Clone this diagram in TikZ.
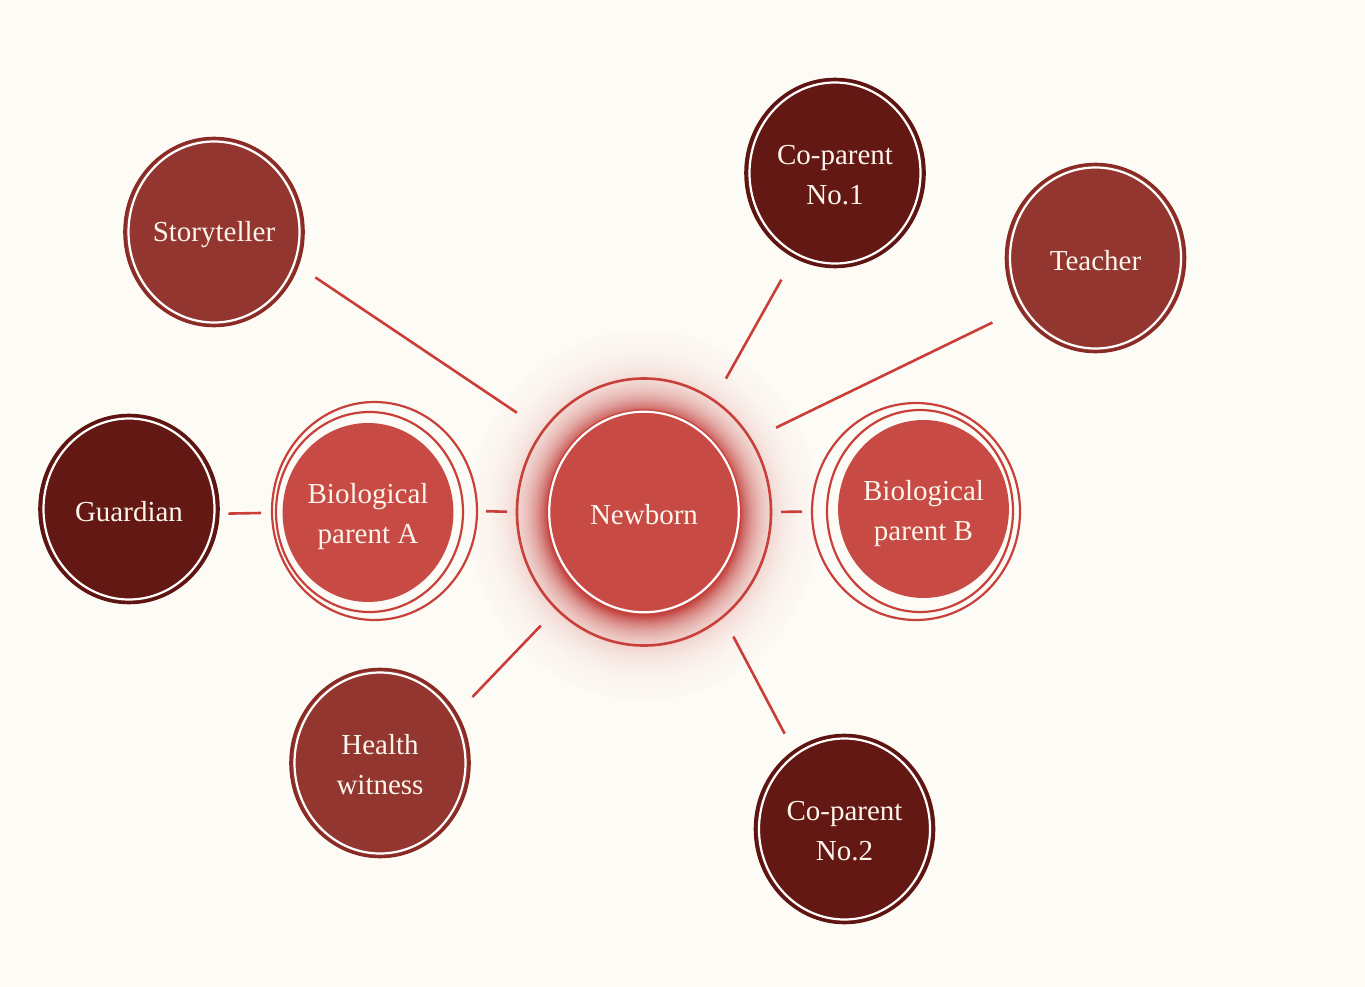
\documentclass[tikz,border=0pt]{standalone}
\usepackage{fontspec}
\setmainfont{Liberation Serif}
\usetikzlibrary{shapes.geometric}
\definecolor{bg}{HTML}{FDFBF6}
\definecolor{redA}{HTML}{C74A44}
\definecolor{ringred}{HTML}{C9403A}
\definecolor{glowred}{HTML}{BE3430}
\definecolor{midred}{HTML}{933630}
\definecolor{midborder}{HTML}{8A2A25}
\definecolor{darkred}{HTML}{641813}
\definecolor{darkborder}{HTML}{5E1410}
\definecolor{txt}{HTML}{FCF5EC}
\definecolor{linkred}{HTML}{CB3E38}
\newcommand{\whitering}[3]{\draw[white, line width=2.2pt] (#1.center) ellipse [x radius=#2, y radius=#3];}
\newcommand{\twolines}[2]{\raisebox{-3.2pt}[\height][\depth]{\begin{tabular}{@{}c@{}}#1\\#2\end{tabular}}}
\newcommand{\oneline}[1]{\raisebox{-2.6pt}[\height][\depth]{#1}}
\begin{document}
\begin{tikzpicture}[x=1pt,y=-1pt,
  lbl/.style={text=txt, font=\fontsize{29}{40}\selectfont},
  outer/.style={ellipse, inner sep=0pt, minimum width=179pt, minimum height=188pt, line width=2.6pt, lbl},
  midnode/.style={outer, fill=midred, draw=midborder},
  darknode/.style={outer, fill=darkred, draw=darkborder},
  ringnode/.style={ellipse, inner sep=0pt, outer sep=0pt, draw=ringred, line width=2.2pt},
  link/.style={draw=linkred, line width=2.6pt}
]
\useasboundingbox[fill=bg] (0,0) rectangle (1365,987);

% glow around the newborn
\foreach \d in {176,174,...,96}{
  \pgfmathsetmacro{\p}{min(92,92*exp(-(\d-97)/19))}
  \pgfmathsetmacro{\dy}{\d*1.052}
  \fill[glowred!\p!bg] (644,515) ellipse [x radius=\d, y radius=\dy];
}

% Newborn
\node[ringnode, line width=2.6pt, minimum width=254pt, minimum height=267pt] (nbo) at (644,512) {};
\node[ellipse, inner sep=0pt, minimum width=193pt, minimum height=204pt, fill=redA, draw=ringred, line width=1.4pt, lbl] (nb) at (644,512) {\oneline{Newborn}};
\whitering{nb}{94.8}{100.3}

% Biological parent A
\node[ringnode, minimum width=205pt, minimum height=218pt] (bioAr1) at (374.5,511) {};
\node[ringnode, minimum width=187pt, minimum height=200pt] (bioAr2) at (369.5,512) {};
\node[ellipse, inner sep=0pt, minimum width=170pt, minimum height=179pt, fill=redA, lbl] (bioA) at (368,512.5) {\twolines{Biological}{parent A}};

% Biological parent B
\node[ringnode, minimum width=208pt, minimum height=217pt] (bioBr1) at (916,511.5) {};
\node[ringnode, minimum width=186pt, minimum height=202pt] (bioBr2) at (920,511) {};
\node[ellipse, inner sep=0pt, minimum width=169pt, minimum height=178pt, fill=redA, lbl] (bioB) at (923.5,509) {\twolines{Biological}{parent B}};

% outer people
\node[midnode] (story) at (214,232) {\oneline{Storyteller}};
\whitering{story}{85.5}{90.5}
\node[darknode] (co1) at (835,173) {\twolines{Co-parent}{No.1}};
\whitering{co1}{85.5}{90.5}
\node[midnode] (teach) at (1095.5,258) {\oneline{Teacher}};
\whitering{teach}{85.5}{90.5}
\node[darknode] (guard) at (129,509) {\oneline{Guardian}};
\whitering{guard}{85.5}{90.5}
\node[midnode] (health) at (380,763) {\twolines{Health}{witness}};
\whitering{health}{85.5}{90.5}
\node[darknode] (co2) at (844.5,829) {\twolines{Co-parent}{No.2}};
\whitering{co2}{85.5}{90.5}

% connectors
\draw[link, shorten <=20pt, shorten >=32pt] (story.-22.7) -- (nbo.141.3);
\draw[link, shorten <=25pt, shorten >=25pt] (co1.-116.7) -- (nbo.58.5);
\draw[link, shorten <=29.7pt, shorten >=28pt] (teach.-146.5) -- (nbo.34.9);
\draw[link, shorten <=8.6pt, shorten >=11pt] (guard.-3.2) -- (bioAr1.181.7);
\draw[link, shorten <=9pt, shorten >=10pt] (bioAr1.-0.5) -- (nbo.180);
\draw[link, shorten <=10pt, shorten >=10pt] (nbo.0) -- (bioBr1.180);
\draw[link, shorten <=22pt, shorten >=23pt] (health.33.5) -- (nbo.-132.4);
\draw[link, shorten <=18.7pt, shorten >=22.5pt] (co2.123.2) -- (nbo.-53.2);
\end{tikzpicture}
\end{document}
